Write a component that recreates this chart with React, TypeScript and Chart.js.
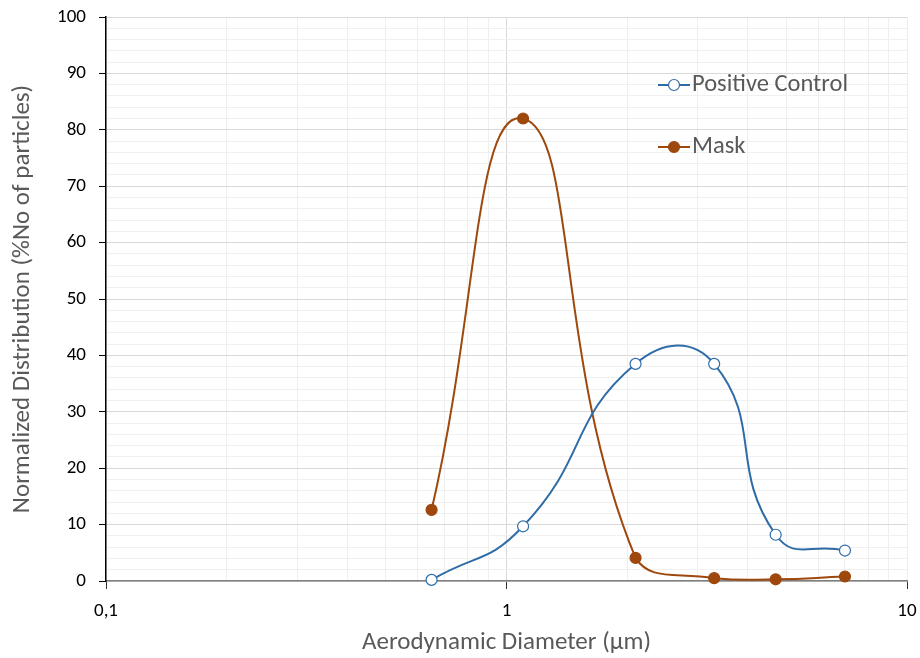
import React, { useEffect, useRef } from "react";
import { Chart, registerables } from "chart.js";

Chart.register(...registerables);

const diameters = [0.65, 1.1, 2.1, 3.3, 4.7, 7.0];
const positiveControl = [0.2, 9.7, 38.5, 38.5, 8.2, 5.4];
const mask = [12.6, 82, 4.1, 0.5, 0.3, 0.8];
const seriesNames = ["Positive Control", "Mask"];
const seriesColors = ["#2e6ca8", "#9e480e"];
const xGridValues = [0.1, 0.2, 0.3, 0.4, 0.5, 0.6, 0.7, 0.8, 0.9, 1, 2, 3, 4, 5, 6, 7, 8, 9, 10];
const xTickLabels = ["0,1", "1", "10"];
const yTitle = "Normalized Distribution (%No of particles)";
const xTitle = "Aerodynamic Diameter (µm)";

const FONT = "Carlito, Lato, 'Open Sans', sans-serif";

const isDecade = (v: number) => {
  const l = Math.log10(v);
  return Math.abs(l - Math.round(l)) < 1e-6;
};

const zeroPadding = (s: any) => {
  s.paddingTop = 0;
  s.paddingBottom = 0;
  s.paddingLeft = 0;
  s.paddingRight = 0;
};

const legendPlugin = {
  id: "insideLegend",
  afterDraw(chart: any) {
    const ctx = chart.ctx;
    const x0 = 658;
    const rows = [85, 147];
    ctx.save();
    chart.data.datasets.forEach((ds: any, i: number) => {
      const y = rows[i];
      ctx.strokeStyle = ds.borderColor;
      ctx.lineWidth = 2;
      ctx.beginPath();
      ctx.moveTo(x0, y);
      ctx.lineTo(x0 + 32, y);
      ctx.stroke();
      ctx.beginPath();
      ctx.arc(x0 + 16, y, 5.5, 0, Math.PI * 2);
      ctx.fillStyle = ds.pointBackgroundColor;
      ctx.fill();
      ctx.lineWidth = 1.2;
      ctx.strokeStyle = ds.pointBorderColor;
      ctx.stroke();
      ctx.fillStyle = "#595959";
      ctx.font = `24.5px ${FONT}`;
      ctx.textAlign = "left";
      ctx.textBaseline = "middle";
      ctx.fillText(ds.label, x0 + 34, y);
    });
    ctx.restore();
  },
};

export default function App() {
  const ref = useRef<HTMLCanvasElement | null>(null);
  useEffect(() => {
    if (!ref.current) return;
    const chart = new Chart(ref.current, {
      type: "line",
      data: {
        datasets: [
          {
            label: seriesNames[0],
            data: diameters.map((d, i) => ({ x: d, y: positiveControl[i] })),
            borderColor: seriesColors[0],
            backgroundColor: seriesColors[0],
            pointBackgroundColor: "#ffffff",
            pointBorderColor: seriesColors[0],
            pointRadius: 5.5,
            pointBorderWidth: 1.2,
            borderWidth: 2,
            tension: 0.5,
            clip: false as any,
          },
          {
            label: seriesNames[1],
            data: diameters.map((d, i) => ({ x: d, y: mask[i] })),
            borderColor: seriesColors[1],
            backgroundColor: seriesColors[1],
            pointBackgroundColor: seriesColors[1],
            pointBorderColor: seriesColors[1],
            pointRadius: 5.5,
            pointBorderWidth: 1.2,
            borderWidth: 2,
            tension: 0.5,
            clip: false as any,
          },
        ],
      },
      options: {
        animation: false,
        responsive: true,
        maintainAspectRatio: false,
        layout: { autoPadding: false, padding: { top: 17, right: 13, left: 0, bottom: 0 } },
        plugins: { legend: { display: false }, tooltip: { enabled: false } },
        scales: {
          x: {
            type: "logarithmic",
            min: 0.1,
            max: 10,
            afterBuildTicks: (s: any) => {
              s.ticks = xGridValues.map((v) => ({ value: v, major: isDecade(v) }));
            },
            afterFit: (s: any) => {
              s.height = 77;
              zeroPadding(s);
            },
            border: { color: "#7f7f7f", width: 1.5 },
            grid: {
              color: (c: any) => (c.tick && Math.abs(c.tick.value - 1) < 1e-9 ? "#d9d9d9" : "#efefef"),
              tickColor: (c: any) => (c.tick && isDecade(c.tick.value) ? "#333333" : "rgba(0,0,0,0)"),
              tickLength: 8,
              lineWidth: 1,
            },
            ticks: {
              autoSkip: false,
              maxRotation: 0,
              color: "#000000",
              font: { family: FONT, size: 19 },
              padding: 11,
              callback: (v: any) => {
                const n = Number(v);
                if (!isDecade(n)) return "";
                const idx = Math.round(Math.log10(n)) + 1;
                return xTickLabels[idx] ?? "";
              },
            },
            title: {
              display: true,
              text: xTitle,
              color: "#595959",
              font: { family: FONT, size: 25 },
              padding: { top: 2, bottom: 0 },
            },
          },
          y: {
            type: "linear",
            min: 0,
            max: 100,
            afterFit: (s: any) => {
              s.width = 106;
              zeroPadding(s);
            },
            border: { color: "#000000", width: 1.5 },
            grid: {
              color: (c: any) => (c.tick && c.tick.value % 10 === 0 ? "#d9d9d9" : "#f0f0f0"),
              tickColor: (c: any) => (c.tick && c.tick.value % 10 === 0 ? "#000000" : "rgba(0,0,0,0)"),
              tickLength: 7,
              lineWidth: 1,
            },
            ticks: {
              stepSize: 2,
              autoSkip: false,
              color: "#000000",
              font: { family: FONT, size: 19 },
              padding: 13,
              callback: (v: any) => (Number(v) % 10 === 0 ? String(v) : ""),
            },
            title: {
              display: true,
              text: yTitle,
              color: "#595959",
              font: { family: FONT, size: 25 },
              padding: { top: 8, bottom: 8 },
            },
          },
        },
      },
      plugins: [legendPlugin],
    } as any);
    return () => chart.destroy();
  }, []);
  return (
    <div style={{ position: "absolute", left: 0, top: 0, width: 920, height: 658 }}>
      <canvas ref={ref} />
    </div>
  );
}
